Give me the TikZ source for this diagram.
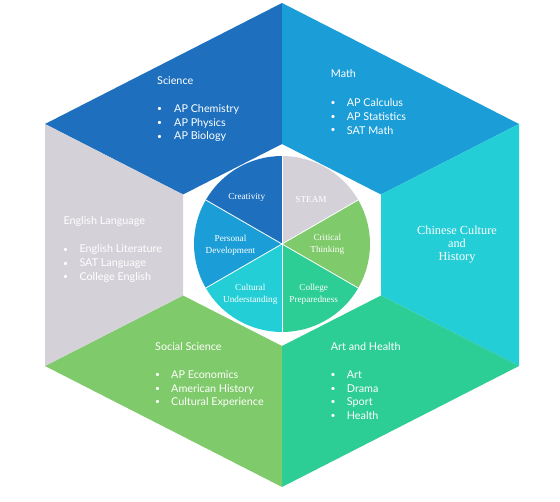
\documentclass[tikz,border=0pt]{standalone}
\usepackage{fontspec}
\setmainfont{Liberation Serif}
\newfontfamily\gs{Lato}
\definecolor{csci}{RGB}{30,112,190}
\definecolor{cmath}{RGB}{27,158,216}
\definecolor{cchin}{RGB}{35,206,214}
\definecolor{cart}{RGB}{45,205,150}
\definecolor{csoc}{RGB}{127,202,106}
\definecolor{ceng}{RGB}{212,209,216}
\begin{document}
\begin{tikzpicture}[x=1pt,y=-1pt,
  txt/.style={font=\gs\fontsize{10.8}{12}\selectfont, text=white, inner sep=0pt, anchor=west},
  bul/.style={font=\gs\fontsize{8.5}{10}\selectfont, text=white, inner sep=0pt},
  pielbl/.style={font=\fontsize{9.2}{12}\selectfont, text=white, align=center, inner sep=0pt},
  sep/.style={white, line width=0.8pt}]
\useasboundingbox (0,0) rectangle (560,502);
\fill[white] (0,0) rectangle (560,502);
% outer hexagon vertices
\coordinate (T) at (282,3);
\coordinate (UR) at (519,124);
\coordinate (LR) at (519,366);
\coordinate (B) at (282,487);
\coordinate (LL) at (45,366);
\coordinate (UL) at (45,124);
% inner hexagon vertices
\coordinate (iT) at (282,144);
\coordinate (iUR) at (381,194.5);
\coordinate (iLR) at (381,295.5);
\coordinate (iB) at (282,346);
\coordinate (iLL) at (183,295.5);
\coordinate (iUL) at (183,194.5);
% sectors
\fill[csci] (T) -- (UL) -- (iUL) -- (iT) -- cycle;
\fill[cmath] (T) -- (UR) -- (iUR) -- (iT) -- cycle;
\fill[cchin] (UR) -- (LR) -- (iLR) -- (iUR) -- cycle;
\fill[cart] (LR) -- (B) -- (iB) -- (iLR) -- cycle;
\fill[csoc] (B) -- (LL) -- (iLL) -- (iB) -- cycle;
\fill[ceng] (LL) -- (UL) -- (iUL) -- (iLL) -- cycle;
% pie
\begin{scope}[shift={(282,244)}, yscale=-1]
  \fill[csci] (0,0) -- (90:88) arc[start angle=90, end angle=150, radius=88] -- cycle;
  \fill[cmath] (0,0) -- (150:88) arc[start angle=150, end angle=210, radius=88] -- cycle;
  \fill[cchin] (0,0) -- (210:88) arc[start angle=210, end angle=270, radius=88] -- cycle;
  \fill[cart] (0,0) -- (270:88) arc[start angle=270, end angle=330, radius=88] -- cycle;
  \fill[csoc] (0,0) -- (-30:88) arc[start angle=-30, end angle=30, radius=88] -- cycle;
  \fill[ceng] (0,0) -- (30:88) arc[start angle=30, end angle=90, radius=88] -- cycle;
  \foreach \a in {30,90,150,210,270,330} \draw[sep] (0,0) -- (\a:88);
\end{scope}
% pie labels
\node[pielbl] (cre) at (246.7,197.3) {Creativity};
\node[pielbl] (steam) at (311,199.3) {STEAM};
\node[pielbl] (crit) at (327.3,244) {Critical\\Thinking};
\node[pielbl] (pers) at (230.5,245) {Personal\\Development};
\node[pielbl] (cult) at (250.3,294.7) {Cultural\\Understanding};
\node[pielbl] (coll) at (313.7,294) {College\\Preparedness};
% Science
\node[txt] (sci) at (157,81) {Science};
\foreach \y/\t [count=\i] in {109/AP Chemistry,123/AP Physics,137/AP Biology}{
  \node[bul] (scib\i) at (159.5,\y) {•};
  \node[txt] (scit\i) at (174,\y) {\t};}
% Math
\node[txt] (math) at (330.7,74) {Math};
\foreach \y/\t [count=\i] in {103/AP Calculus,117/AP Statistics,130.5/SAT Math}{
  \node[bul] (mathb\i) at (333,\y) {•};
  \node[txt] (matht\i) at (346.7,\y) {\t};}
% English
\node[txt] (eng) at (63.3,221.7) {English Language};
\foreach \y/\t [count=\i] in {250/English Literature,264/SAT Language,277.7/College English}{
  \node[bul] (engb\i) at (65.5,\y) {•};
  \node[txt] (engt\i) at (79.3,\y) {\t};}
% Social Science
\node[txt] (soc) at (155,346.7) {Social Science};
\foreach \y/\t [count=\i] in {375/AP Economics,389/American History,402.7/Cultural Experience}{
  \node[bul] (socb\i) at (157.5,\y) {•};
  \node[txt] (soct\i) at (171,\y) {\t};}
% Art and Health
\node[txt] (art) at (330.7,346.7) {Art and Health};
\foreach \y/\t [count=\i] in {375/Art,389/Drama,402.7/Sport,416/Health}{
  \node[bul] (artb\i) at (333,\y) {•};
  \node[txt] (artt\i) at (346.7,\y) {\t};}
% Chinese
\node[font=\fontsize{12.3}{13}\selectfont, text=white, align=center, inner sep=0pt] (chin) at (457,245) {Chinese Culture\\and\\History};
\end{tikzpicture}
\end{document}
